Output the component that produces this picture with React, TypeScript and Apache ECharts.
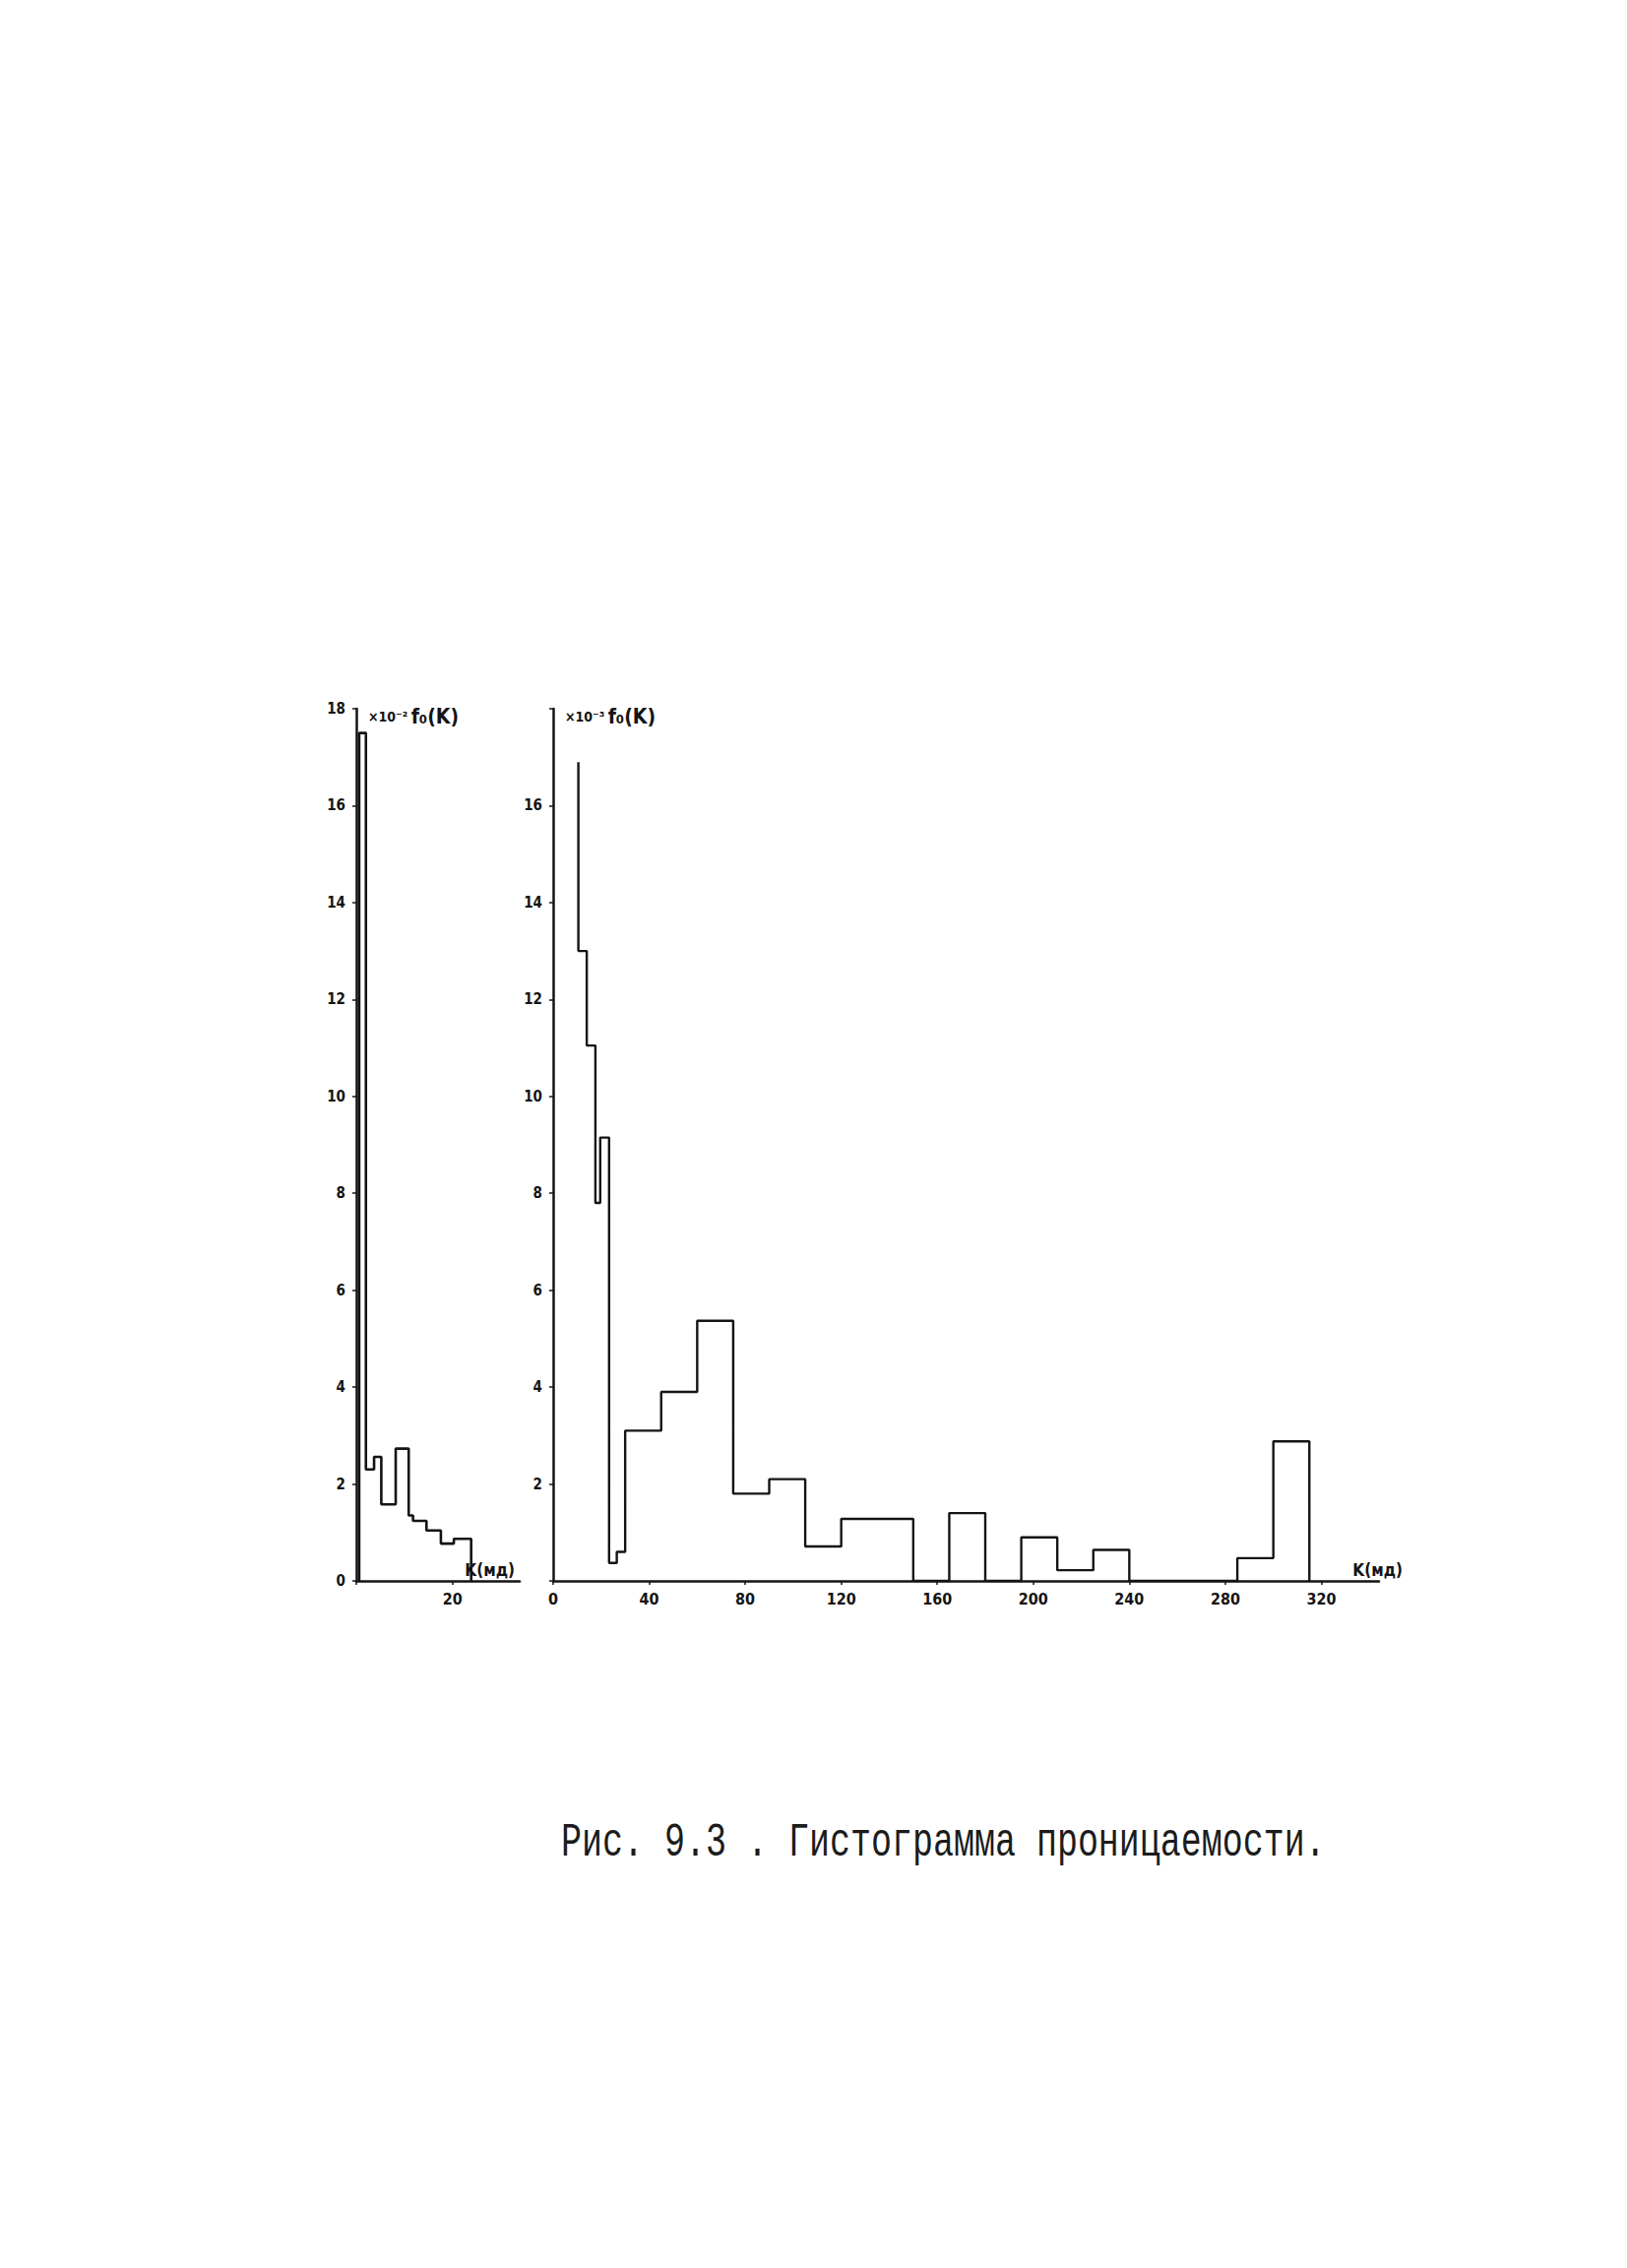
import React, { useEffect, useRef } from "react";
import * as echarts from "echarts";

// ---- Data ----
// Left panel: permeability 0..24 mD, density ×10^-2
const leftEdges = [0.6, 2.0, 3.7, 5.2, 8.2, 10.9, 11.8, 14.6, 17.6, 20.3, 23.9];
const leftHeights = [17.5, 2.3, 2.56, 1.58, 2.73, 1.35, 1.24, 1.04, 0.77, 0.87];

// Right panel: permeability 0..320 mD, density ×10^-3
const rightPeak = 16.9;
const rightEdges = [10.5, 14, 17.6, 19.6, 23.3, 26.5, 30, 45, 60, 75, 90, 105, 120, 150, 165, 180, 195, 210, 225, 240, 285, 300, 315];
const rightHeights = [13.0, 11.05, 7.8, 9.15, 0.37, 0.6, 3.1, 3.9, 5.37, 1.8, 2.1, 0.71, 1.28, 0, 1.4, 0, 0.9, 0.22, 0.64, 0, 0.47, 2.88];

const yMax = 18;
const yStep = 2;
const leftXMax = 34;
const leftXStep = 20;
const rightXMax = 344;
const rightXStep = 40;

const leftYName = "{s|×10⁻²} {f|f₀(K)}";
const rightYName = "{s|×10⁻³} {f|f₀(K)}";
const xName = "K(мд)";
const caption = "Рис. 9.3 . Гистограмма проницаемости.";

function stepOutline(edges: number[], heights: number[], startY: number) {
  const pts: number[][] = [[edges[0], startY]];
  heights.forEach((h, i) => {
    pts.push([edges[i], h]);
    pts.push([edges[i + 1], h]);
  });
  pts.push([edges[edges.length - 1], 0]);
  return pts;
}

const INK = "#141414";
const tickFont = "'DejaVu Sans Condensed', 'DejaVu Sans', sans-serif";

function makeX(gridIndex: number, max: number, interval: number, hideZero: boolean, nameGap: number) {
  return {
    gridIndex,
    type: "value",
    min: 0,
    max,
    interval,
    axisLine: { show: true, onZero: false, lineStyle: { color: INK, width: 2.5 } },
    axisTick: { show: true, length: 4, lineStyle: { color: INK, width: 1.5 } },
    splitLine: { show: false },
    axisLabel: {
      margin: 10,
      color: INK,
      fontSize: 16,
      fontWeight: "bold",
      fontFamily: tickFont,
      showMaxLabel: false,
      formatter: (v: number) => (hideZero && v === 0 ? "" : String(v)),
    },
    name: xName,
    nameLocation: "end",
    nameGap,
    nameTextStyle: {
      color: INK,
      fontSize: 17,
      fontWeight: "bold",
      fontFamily: tickFont,
      align: "right",
      verticalAlign: "bottom",
      padding: [0, 0, 3, 0],
    },
  };
}

function makeY(gridIndex: number, name: string, hideEnds: boolean) {
  return {
    gridIndex,
    type: "value",
    min: 0,
    max: yMax,
    interval: yStep,
    axisLine: { show: true, lineStyle: { color: INK, width: 2.5 } },
    axisTick: { show: true, length: 4, lineStyle: { color: INK, width: 1.5 } },
    splitLine: { show: false },
    axisLabel: {
      margin: 11,
      color: INK,
      fontSize: 15,
      fontWeight: "bold",
      fontFamily: tickFont,
      formatter: (v: number) => (hideEnds && (v === 0 || v === yMax) ? "" : String(v)),
    },
    name,
    nameLocation: "end",
    nameGap: -8,
    nameTextStyle: {
      color: INK,
      align: "left",
      verticalAlign: "middle",
      padding: [0, 0, 0, 12],
      fontFamily: tickFont,
      rich: {
        s: { fontSize: 14, fontWeight: "bold", color: INK, fontFamily: tickFont },
        f: { fontSize: 21, fontWeight: "bold", color: INK, fontFamily: tickFont },
      },
    },
  };
}

export default function App() {
  const ref = useRef<HTMLDivElement>(null);
  useEffect(() => {
    if (!ref.current) return;
    const chart = echarts.init(ref.current, undefined, { renderer: "svg" });
    chart.setOption({
      animation: false,
      backgroundColor: "#ffffff",
      grid: [
        { left: 362, top: 720, width: 166, height: 886 },
        { left: 562, top: 720, width: 839, height: 886 },
      ],
      xAxis: [
        makeX(0, leftXMax, leftXStep, true, -5),
        makeX(1, rightXMax, rightXStep, false, 24),
      ],
      yAxis: [makeY(0, leftYName, false), makeY(1, rightYName, true)],
      series: [
        {
          type: "line",
          xAxisIndex: 0,
          yAxisIndex: 0,
          data: stepOutline(leftEdges, leftHeights, 0),
          symbol: "none",
          lineStyle: { color: INK, width: 2.6 },
          z: 3,
        },
        {
          type: "line",
          xAxisIndex: 1,
          yAxisIndex: 1,
          data: stepOutline(rightEdges, rightHeights, rightPeak),
          symbol: "none",
          lineStyle: { color: INK, width: 2.4 },
          z: 3,
        },
      ],
      graphic: [
        {
          type: "text",
          x: 570,
          y: 1872,
          scaleY: 1.4,
          style: {
            text: caption,
            fill: "#1c1c1c",
            font: "35px 'Liberation Mono', 'DejaVu Sans Mono', monospace",
            textAlign: "left",
            textVerticalAlign: "middle",
          },
        },
      ],
    });
    return () => chart.dispose();
  }, []);
  return (
    <div
      ref={ref}
      style={{ position: "absolute", left: 0, top: 0, width: 1653, height: 2304, background: "#fff" }}
    />
  );
}
